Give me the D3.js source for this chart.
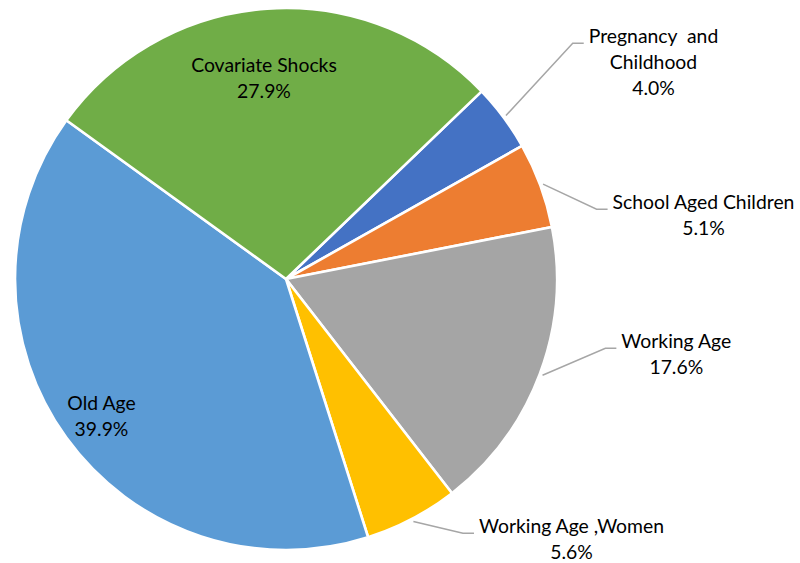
<!DOCTYPE html>
<html>
<head>
<meta charset="utf-8">
<script src="https://cdn.jsdelivr.net/npm/d3@7"></script>
<style>
  html, body { margin: 0; padding: 0; background: #fff; }
  svg { display: block; }
  text { font-family: Lato, "Open Sans", "Noto Sans", sans-serif; fill: #000; white-space: pre; }
</style>
</head>
<body>
<svg id="chart" width="800" height="563"></svg>
<script>
// ---- data ----
const categories = ["Pregnancy  and Childhood", "School Aged Children", "Working Age", "Working Age ,Women", "Old Age", "Covariate Shocks"];
const labelLines = [["Pregnancy  and", "Childhood"], ["School Aged Children"], ["Working Age"], ["Working Age ,Women"], ["Old Age"], ["Covariate Shocks"]];
const values = [4.0, 5.1, 17.6, 5.6, 39.9, 27.9];
const valueLabels = ["4.0%", "5.1%", "17.6%", "5.6%", "39.9%", "27.9%"];
const colors = ["#4472C4", "#ED7D31", "#A5A5A5", "#FFC000", "#5B9BD5", "#70AD47"];

// ---- layout ----
const cx = 286, cy = 279, R = 271;
const startDeg = 46.2;
const lineH = 25.7;
const labelPos = [
  { x: 653.5, y: 43.3, leader: true },
  { x: 703.5, y: 209.3, leader: true },
  { x: 676.3, y: 348.3, leader: true },
  { x: 571.5, y: 533.3, leader: true },
  { x: 101.5, y: 410, leader: false },
  { x: 264, y: 72.3, leader: false }
];

const svg = d3.select("#chart");
const g = svg.append("g").attr("transform", `translate(${cx},${cy})`);

const pie = d3.pie().sort(null).value(d => d)
  .startAngle(startDeg * Math.PI / 180)
  .endAngle(startDeg * Math.PI / 180 + 2 * Math.PI);
const arcs = pie(values);
const arc = d3.arc().innerRadius(0).outerRadius(R);

g.selectAll("path.slice").data(arcs).enter().append("path")
  .attr("class", "slice")
  .attr("d", arc)
  .attr("fill", (d, i) => colors[i])
  .attr("stroke", "#fff")
  .attr("stroke-width", 2.6)
  .attr("stroke-linejoin", "round");

// font sizing: fit "School Aged Children" to ~182px width like the reference
const probe = svg.append("text").attr("font-size", 100).text("School Aged Children");
const w100 = probe.node().getComputedTextLength();
probe.remove();
const fontSize = 100 * 182 / w100;

const labels = svg.append("g");
arcs.forEach((a, i) => {
  const p = labelPos[i];
  const t = labels.append("text")
    .attr("text-anchor", "middle")
    .attr("font-size", fontSize.toFixed(2));
  const lines = labelLines[i].concat([valueLabels[i]]);
  lines.forEach((ln, k) => {
    t.append("tspan").attr("x", p.x).attr("y", p.y + k * lineH).text(ln);
  });
  if (p.leader) {
    const firstW = t.select("tspan").node().getComputedTextLength();
    const left = p.x - firstW / 2;
    const endX = left - 5, bendX = endX - 11, y = p.y;
    const mid = (a.startAngle + a.endAngle) / 2;
    const sx = cx + (R + 3) * Math.sin(mid), sy = cy - (R + 3) * Math.cos(mid);
    svg.append("polyline")
      .attr("points", `${sx},${sy} ${bendX},${y} ${endX},${y}`)
      .attr("fill", "none")
      .attr("stroke", "#A6A6A6")
      .attr("stroke-width", 1.5);
  }
});
</script>
</body>
</html>
